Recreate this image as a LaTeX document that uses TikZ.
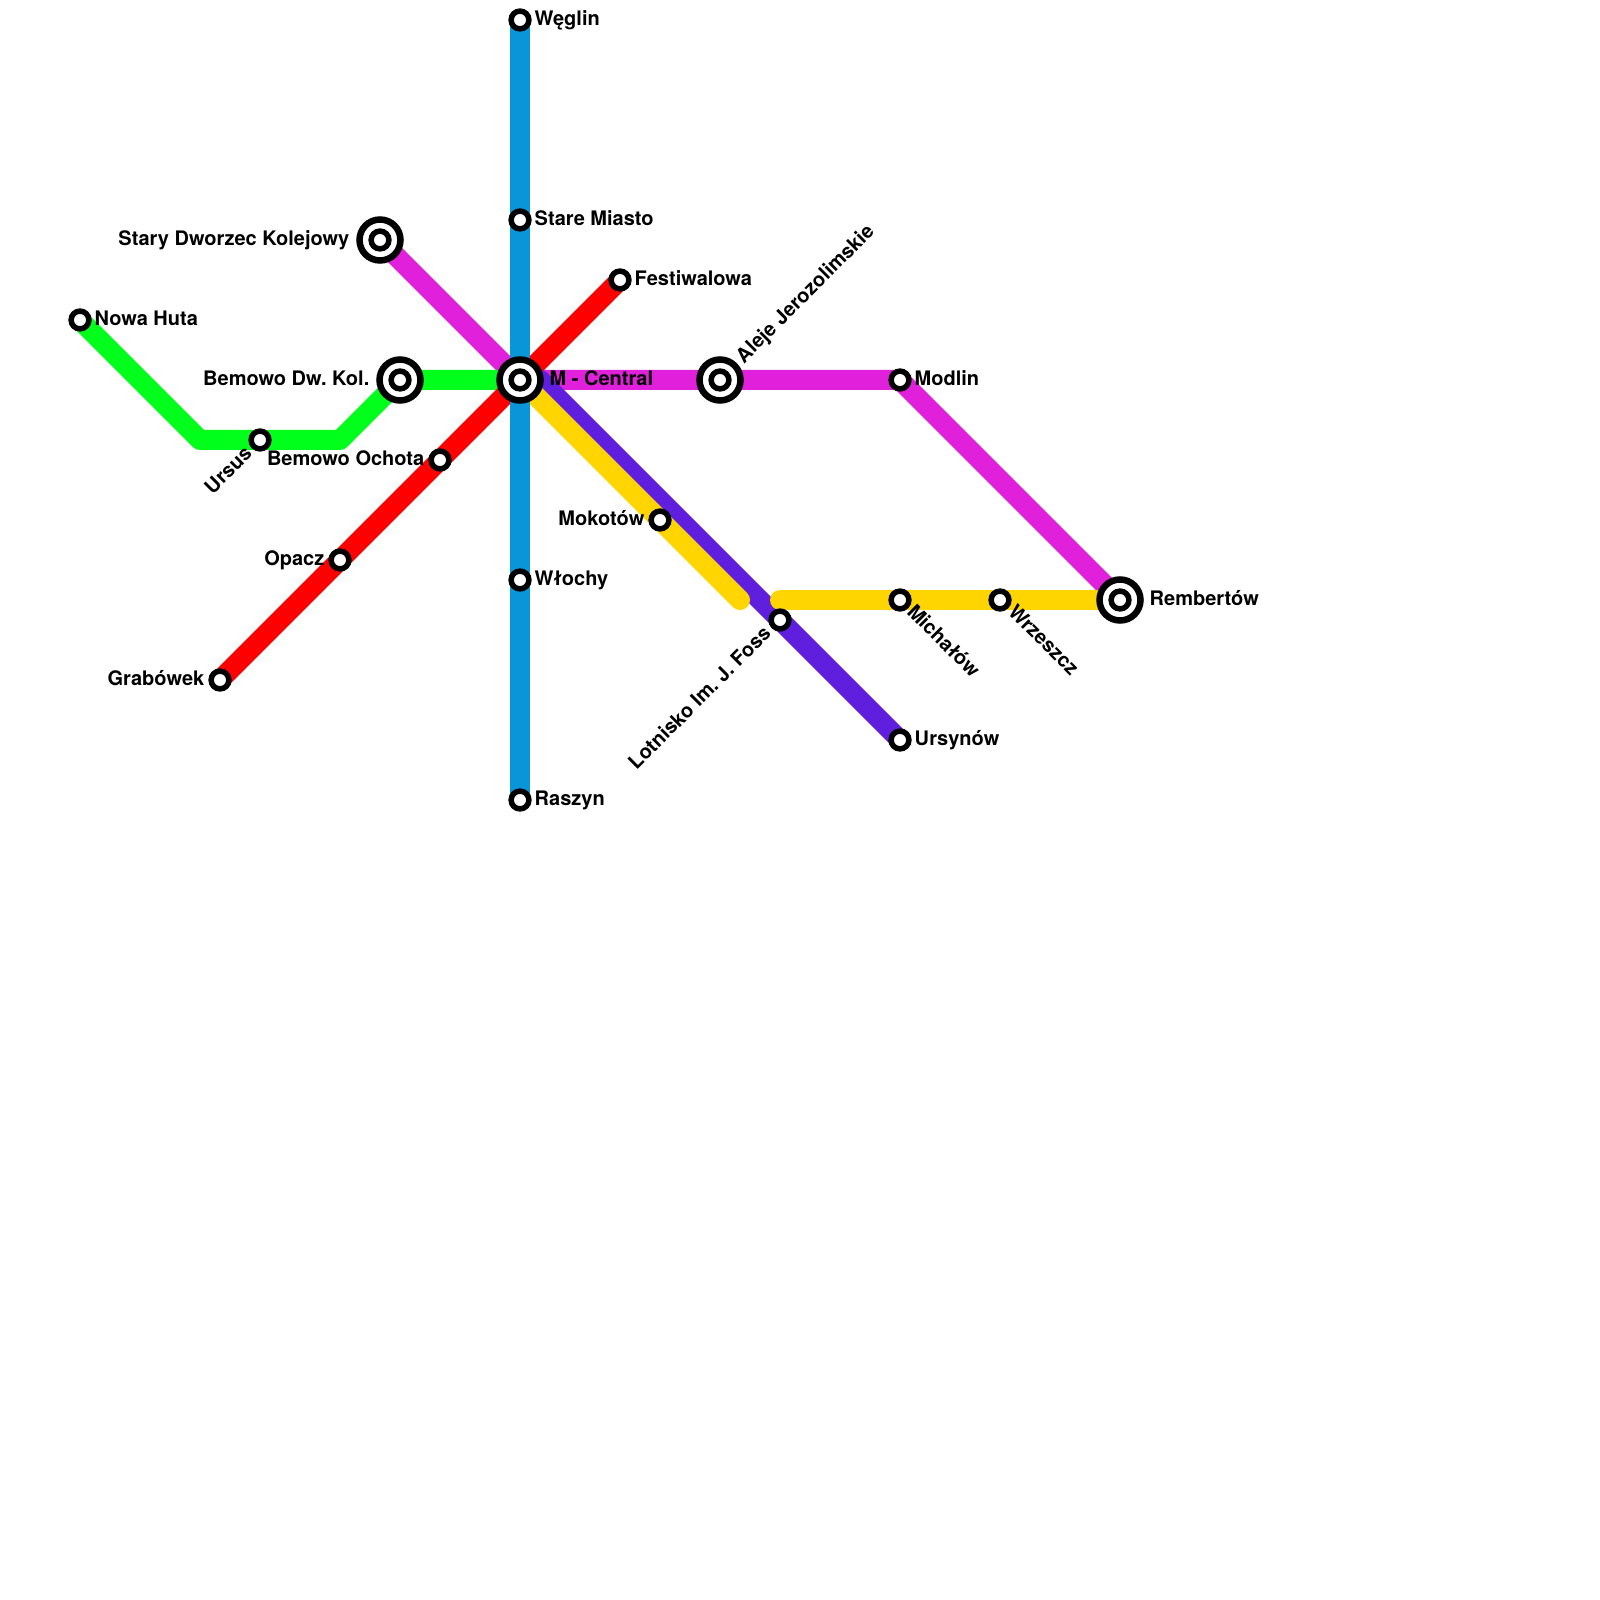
\documentclass[tikz,border=0pt]{standalone}
\usepackage{fontspec}
\setmainfont{TeX Gyre Heros}
\usetikzlibrary{positioning,backgrounds}

\definecolor{lineblue}{RGB}{9,150,216}
\definecolor{linered}{RGB}{255,0,0}
\definecolor{linegreen}{RGB}{0,255,26}
\definecolor{linepink}{RGB}{224,32,219}
\definecolor{linepurple}{RGB}{96,31,222}
\definecolor{lineyellow}{RGB}{255,213,0}

\tikzset{
  stop/.style={circle, draw=black, fill=white, line width=0.055cm, minimum size=0.178cm, inner sep=0pt, outer sep=0pt},
  hub/.style={circle, draw=black, fill=white, line width=0.065cm, minimum size=0.41cm, inner sep=0pt, outer sep=0pt},
  turn/.style={coordinate},
  route/.style={line width=0.2cm, line cap=round, line join=round},
  stn/.style={inner sep=0pt, font=\fontsize{5.69}{6}\bfseries\selectfont\frenchspacing, text=black},
}

\begin{document}
\begin{tikzpicture}[on grid]
  \useasboundingbox (0,0) rectangle (16,-16);
  \node (C) [hub] at (5.2,-3.8) {};
  \node (Cin) [stop] at (C) {};
  \node (W) [stop, above=3.6cm of C] {};
  \node (SM) [stop, above=1.6cm of C] {};
  \node (F) [stop, above right=1cm and 1cm of C] {};
  \node (SD) [hub, above left=1.4cm and 1.4cm of C] {};
  \node (SDin) [stop] at (SD) {};
  \node (BD) [hub, left=1.2cm of C] {};
  \node (BDin) [stop] at (BD) {};
  \node (g2) [turn, below left=0.6cm and 0.6cm of BD] {};
  \node (U) [stop, below left=0.6cm and 1.4cm of BD] {};
  \node (g1) [turn, below left=0.6cm and 2cm of BD] {};
  \node (NH) [stop, above left=0.6cm and 3.2cm of BD] {};
  \node (BO) [stop, below left=0.8cm and 0.8cm of C] {};
  \node (Op) [stop, below left=1cm and 1cm of BO] {};
  \node (Gr) [stop, below left=1.2cm and 1.2cm of Op] {};
  \node (Wl) [stop, below=2cm of C] {};
  \node (Ra) [stop, below=2.2cm of Wl] {};
  \node (Mo) [stop, below right=1.4cm and 1.4cm of C] {};
  \node (y1) [turn, below right=0.8cm and 0.8cm of Mo] {};
  \node (AJ) [hub, right=2cm of C] {};
  \node (AJin) [stop] at (AJ) {};
  \node (Md) [stop, right=1.8cm of AJ] {};
  \node (Re) [hub, below right=2.2cm and 2.2cm of Md] {};
  \node (Rein) [stop] at (Re) {};
  \node (Mi) [stop, below=2.2cm of Md] {};
  \node (Wr) [stop, right=1cm of Mi] {};
  \node (y2) [turn, left=1.2cm of Mi] {};
  \node (p0) [turn, right=0.2cm of C] {};
  \node (Lo) [stop, below right=2.4cm and 2.6cm of C] {};
  \node (Ur) [stop, below right=1.2cm and 1.2cm of Lo] {};

  \begin{scope}[on background layer]
    \draw[route, linepink] (SD.center) -- (C.center) -- (AJ.center) -- (Md.center) -- (Re.center);
    \draw[route, linegreen] (NH.center) -- (g1) -- (U.center) -- (g2) -- (BD.center) -- (C.center);
    \draw[route, linered] (Gr.center) -- (Op.center) -- (BO.center) -- (C.center) -- (F.center);
    \draw[route, linepurple] (p0) -- (Lo.center) -- (Ur.center);
    \draw[route, lineyellow] (C.center) -- (Mo.center) -- (y1);
    \draw[route, lineyellow] (y2) -- (Mi.center) -- (Wr.center) -- (Re.center);
    \draw[route, lineblue] (W.center) -- (SM.center) -- (C.center) -- (Wl.center) -- (Ra.center);
  \end{scope}

  % station names
  \node (tW) [stn, anchor=mid west] at ([xshift=0.14cm, yshift=0.04cm]W.center) {Węglin};
  \node (tSM) [stn, anchor=mid west] at ([xshift=0.14cm, yshift=0.04cm]SM.center) {Stare Miasto};
  \node (tF) [stn, anchor=mid west] at ([xshift=0.14cm, yshift=0.04cm]F.center) {Festiwalowa};
  \node (tC) [stn, anchor=mid west] at ([xshift=0.29cm, yshift=0.04cm]C.center) {M - Central};
  \node (tSD) [stn, anchor=mid east] at ([xshift=-0.3cm, yshift=0.04cm]SD.center) {Stary Dworzec Kolejowy};
  \node (tBD) [stn, anchor=mid east] at ([xshift=-0.3cm, yshift=0.04cm]BD.center) {Bemowo Dw. Kol.};
  \node (tNH) [stn, anchor=mid west] at ([xshift=0.14cm, yshift=0.04cm]NH.center) {Nowa Huta};
  \node (tU) [stn, anchor=mid east, rotate=45] at ([xshift=-0.13cm, yshift=-0.08cm]U.center) {Ursus};
  \node (tBO) [stn, anchor=mid east] at ([xshift=-0.15cm, yshift=0.04cm]BO.center) {Bemowo Ochota};
  \node (tOp) [stn, anchor=mid east] at ([xshift=-0.15cm, yshift=0.04cm]Op.center) {Opacz};
  \node (tGr) [stn, anchor=mid east] at ([xshift=-0.15cm, yshift=0.04cm]Gr.center) {Grabówek};
  \node (tWl) [stn, anchor=mid west] at ([xshift=0.14cm, yshift=0.04cm]Wl.center) {Włochy};
  \node (tRa) [stn, anchor=mid west] at ([xshift=0.14cm, yshift=0.04cm]Ra.center) {Raszyn};
  \node (tMo) [stn, anchor=mid east] at ([xshift=-0.15cm, yshift=0.04cm]Mo.center) {Mokotów};
  \node (tAJ) [stn, anchor=mid west, rotate=45] at ([xshift=0.17cm, yshift=0.22cm]AJ.center) {Aleje Jerozolimskie};
  \node (tMd) [stn, anchor=mid west] at ([xshift=0.14cm, yshift=0.04cm]Md.center) {Modlin};
  \node (tRe) [stn, anchor=mid west] at ([xshift=0.29cm, yshift=0.04cm]Re.center) {Rembertów};
  \node (tMi) [stn, anchor=mid west, rotate=-45] at ([xshift=0.12cm, yshift=-0.06cm]Mi.center) {Michałów};
  \node (tWr) [stn, anchor=mid west, rotate=-45] at ([xshift=0.13cm, yshift=-0.06cm]Wr.center) {Wrzeszcz};
  \node (tLo) [stn, anchor=mid east, rotate=45] at ([xshift=-0.14cm, yshift=-0.08cm]Lo.center) {Lotnisko Im. J. Foss};
  \node (tUr) [stn, anchor=mid west] at ([xshift=0.14cm, yshift=0.04cm]Ur.center) {Ursynów};
\end{tikzpicture}
\end{document}
